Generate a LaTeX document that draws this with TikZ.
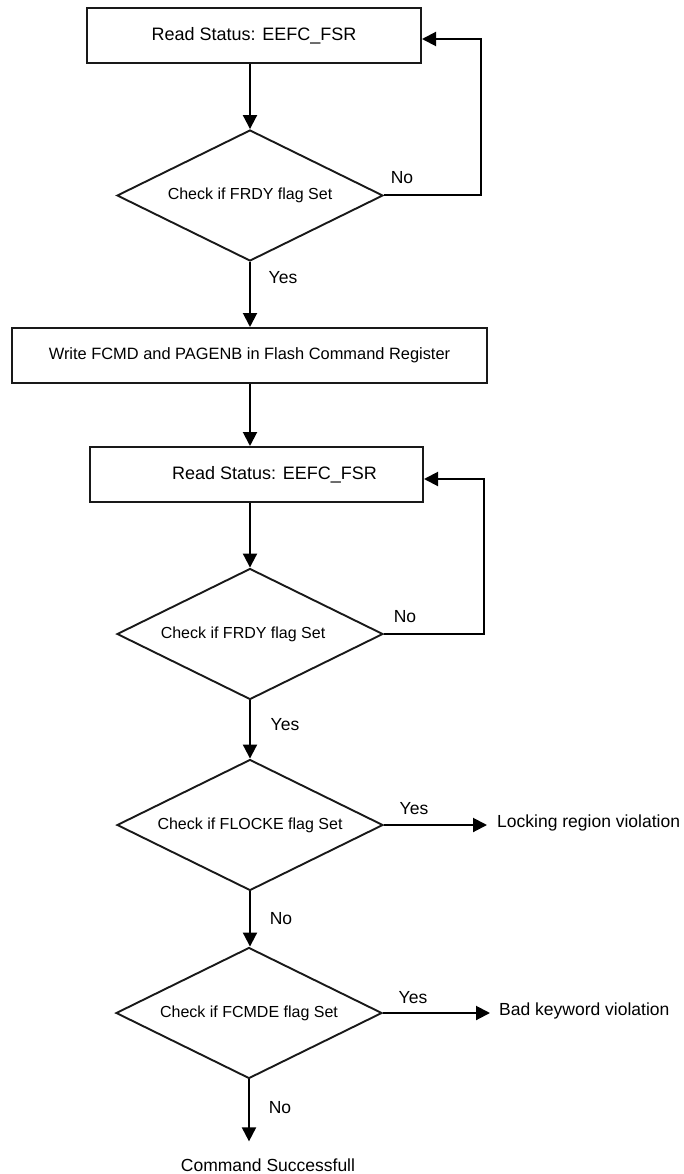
\documentclass[tikz,border=0pt]{standalone}
\usepackage{fontspec}
\setmainfont{Liberation Sans}
\usetikzlibrary{shapes.geometric,arrows.meta}
\begin{document}
\begin{tikzpicture}[x=1pt,y=-1pt,
  box/.style={draw=black!90,line width=2pt,rectangle,minimum height=55pt,inner sep=0pt,font=\fontsize{18}{20}\selectfont},
  dia/.style={draw=black!90,line width=1.9pt,diamond,aspect=2.03,inner sep=0pt,minimum width=266pt,minimum height=131pt,font=\fontsize{16}{18}\selectfont},
  conn/.style={line width=2pt,-{Triangle[length=14pt,width=14pt]}},
  lbl/.style={inner sep=0pt,font=\fontsize{17.5}{20}\selectfont},
]
\useasboundingbox (0,0) rectangle (683,1174);

% process boxes and decisions
\node[box,minimum width=334pt] (b1) at (254,35.5) {Read Status: EEFC\_FSR};
\node[dia] (d1) at (250,195.5) {Check if FRDY flag Set};
\node[box,minimum width=475pt,font=\fontsize{16.4}{18}\selectfont] (b2) at (249.5,355.5) {Write FCMD and PAGENB in Flash Command Register};
\node[box,minimum width=333pt] (b3) at (256.5,474.5) {\hspace*{36pt}Read Status: EEFC\_FSR};
\node[dia] (d2) at (250,634) {Check if FRDY flag Set\hspace*{14pt}};
\node[dia] (d3) at (250,825) {Check if FLOCKE flag Set};
\node[dia] (d4) at (249,1013) {Check if FCMDE flag Set};

% end texts
\node[lbl,anchor=west] (lock) at (497,823) {Locking region violation};
\node[lbl,anchor=west] (bad) at (499,1011) {Bad keyword violation};
\node[lbl] (cmd) at (268,1165) {Command Successfull};

% branch labels
\node[lbl] (no1) at (402,178) {No};
\node[lbl] (yes1) at (283,278) {Yes};
\node[lbl] (no2) at (405,617) {No};
\node[lbl] (yes2) at (285,725) {Yes};
\node[lbl] (yes3) at (414,809) {Yes};
\node[lbl] (no3) at (281,919) {No};
\node[lbl] (yes4) at (413,998) {Yes};
\node[lbl] (no4) at (280,1108) {No};

% loop corners
\coordinate (l1) at (481,39);
\coordinate (l2) at (484,479);

% connectors
\draw[conn] (d1.north |- b1.south) -- (d1.north);
\draw[conn] (d1.east) -| (l1) -- (b1.east |- l1);
\draw[conn] (d1.south) -- (d1.south |- b2.north);
\draw[conn] (d2.north |- b2.south) -- (d2.north |- b3.north);
\draw[conn] (d2.north |- b3.south) -- (d2.north);
\draw[conn] (d2.east) -| (l2) -- (b3.east |- l2);
\draw[conn] (d2.south) -- (d3.north);
\draw[conn,shorten >=10pt] (d3.east) -- (d3.east -| lock.west);
\draw[conn] (d3.south) -- (d4.north -| d3.south);
\draw[conn,shorten >=9pt] (d4.east) -- (d4.east -| bad.west);
\draw[conn,shorten >=17pt] (d4.south) -- (d4.south |- cmd.north);
\end{tikzpicture}
\end{document}
